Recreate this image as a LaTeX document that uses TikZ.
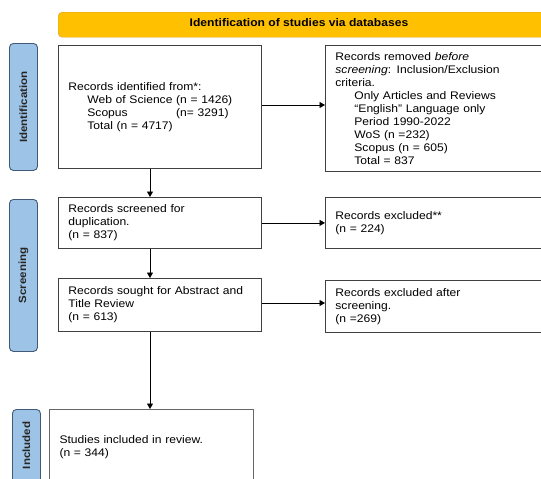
\documentclass[tikz,border=0pt]{standalone}
\usepackage{fontspec}
\setmainfont[FakeStretch=1.1]{Liberation Sans}
\usetikzlibrary{arrows.meta}
\definecolor{sidefill}{RGB}{157,195,230}
\definecolor{sidedraw}{RGB}{65,90,120}
\definecolor{banfill}{RGB}{255,192,0}
\definecolor{bandraw}{RGB}{220,160,40}
\begin{document}
\begin{tikzpicture}[x=1pt,y=-1pt,
  font=\fontsize{11}{13}\selectfont,
  box/.style={draw=black!75, line width=0.8pt, anchor=north west, align=left,
    inner xsep=10pt, inner ysep=0pt},
  side/.style={draw=sidedraw, fill=sidefill, line width=0.9pt,
    rounded corners=4pt, anchor=north west, inner sep=0pt},
  sidetext/.style={rotate=90, font=\fontsize{10.5}{12}\selectfont\bfseries, text=black!85},
  arr/.style={-{Triangle[length=5.5pt,width=6pt]}, line width=0.8pt, black}]
\clip (0,0) rectangle (541,479);
\fill[white] (0,0) rectangle (541,479);
% banner
\node[draw=bandraw, fill=banfill, rounded corners=4pt,
  anchor=north west, minimum width=510pt, minimum height=25pt, inner sep=0pt] (ban) at (58,12) {};
\node[font=\fontsize{11}{12}\selectfont\bfseries] (bant) at (299,23) {Identification of studies via databases};
% side bars
\node[side, minimum width=28pt, minimum height=127pt] (s1) at (9,43) {};
\node[sidetext] (s1t) at (s1.center) {Identification};
\node[side, minimum width=28pt, minimum height=152pt] (s2) at (9,199) {};
\node[sidetext] (s2t) at (s2.center) {Screening};
\node[side, minimum width=28pt, minimum height=90pt] (s3) at (12,409) {};
\node[sidetext] (s3t) at ([yshift=9pt]s3.center) {Included};
% boxes
\node[box, text width=183pt, minimum height=123pt] (b1) at (58,45) {Records identified from*:\\
\hspace*{19pt}Web of Science (n = 1426)\\
\hspace*{19pt}\rlap{Scopus}\phantom{Web of Science }(n= 3291)\\
\hspace*{19pt}Total (n = 4717)};
\node[box, text width=230pt, minimum height=126pt] (b2) at (325,45) {Records removed \textit{before}\\
\textit{screening}: Inclusion/Exclusion\\
criteria.\\
\hspace*{19pt}Only Articles and Reviews\\
\hspace*{19pt}“English” Language only\\
\hspace*{19pt}Period 1990-2022\\
\hspace*{19pt}WoS (n =232)\\
\hspace*{19pt}Scopus (n = 605)\\
\hspace*{19pt}Total = 837};
\node[box, text width=183pt, minimum height=51pt] (b3) at (58,197) {Records screened for\\duplication.\\(n = 837)};
\node[box, text width=230pt, minimum height=51pt] (b4) at (325,197) {Records excluded**\\(n = 224)};
\node[box, text width=183pt, minimum height=53pt] (b5) at (58,278) {Records sought for Abstract and\\Title Review\\(n = 613)};
\node[box, text width=230pt, minimum height=52pt] (b6) at (325,280) {Records excluded after\\screening.\\(n =269)};
\node[box, draw=black!60, line width=1pt, text width=184pt, minimum height=82pt, anchor=north west] (b7) at (49,409) {\raisebox{15pt}{\parbox{184pt}{Studies included in review.\\(n = 344)}}};
% connectors
\draw[arr] (b1.east |- 0,105) -- (b2.west |- 0,105);
\draw[arr] (b3.east) -- (b4.west |- b3.east);
\draw[arr] (b5.east |- 0,303) -- (b6.west |- 0,303);
\draw[arr] (b1.south -| 150,0) -- (b3.north -| 150,0);
\draw[arr] (b3.south -| 150,0) -- (b5.north -| 150,0);
\draw[arr] (b5.south -| 150,0) -- (b7.north -| 150,0);
\end{tikzpicture}
\end{document}
